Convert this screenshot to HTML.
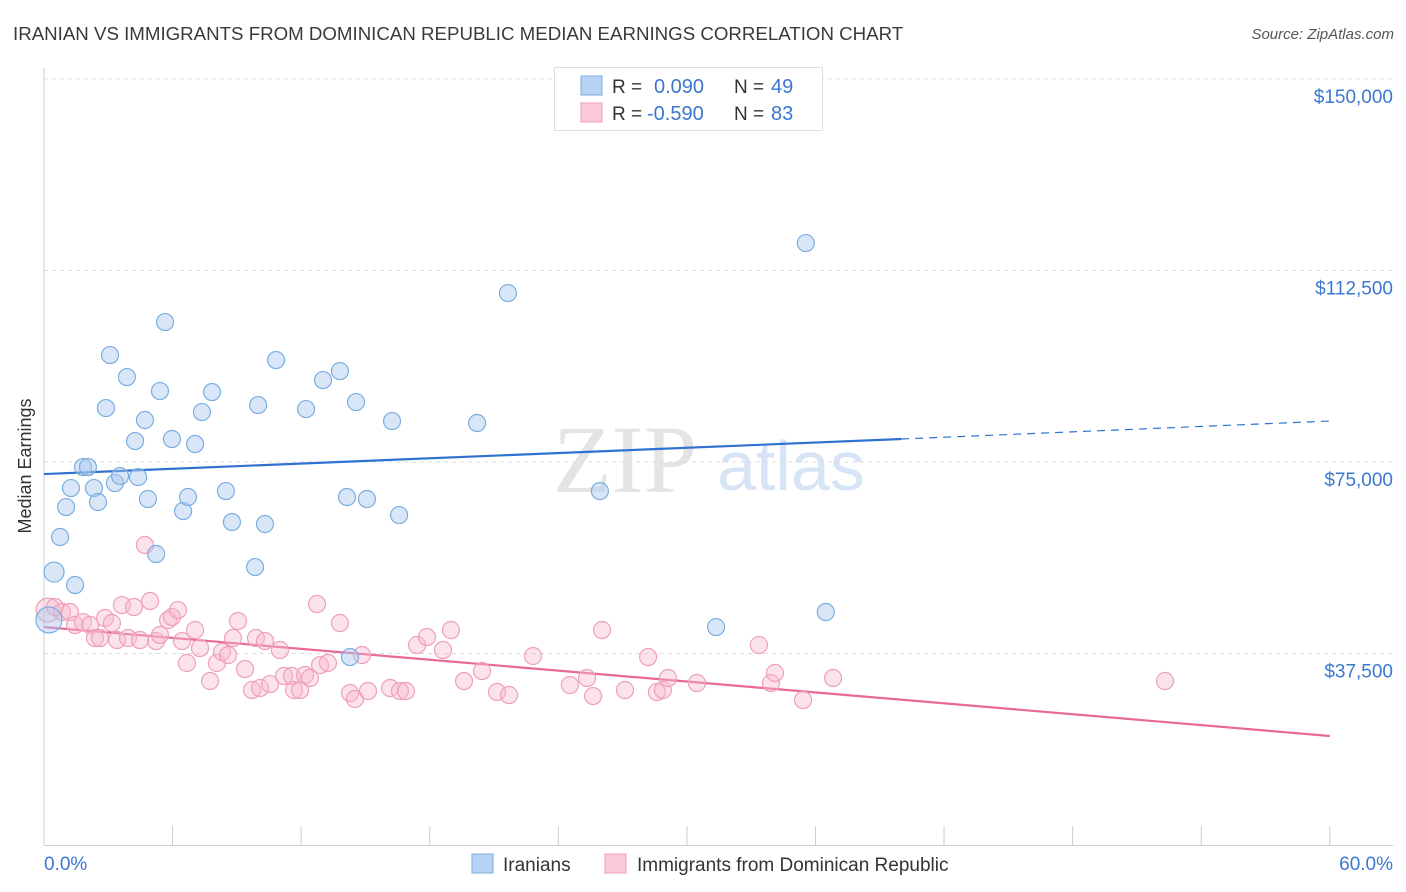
<!DOCTYPE html>
<html><head><meta charset="utf-8"><style>
body{margin:0;background:#fff;font-family:"Liberation Sans",sans-serif;}
svg{display:block}
</style></head><body>
<svg id="chart" width="1406" height="892" xmlns="http://www.w3.org/2000/svg">
<text x="13" y="40" font-size="18.7" fill="#3a3a3a">IRANIAN VS IMMIGRANTS FROM DOMINICAN REPUBLIC MEDIAN EARNINGS CORRELATION CHART</text>
<text x="1394" y="39" font-size="15" fill="#555" font-style="italic" text-anchor="end">Source: ZipAtlas.com</text>
<g>
<text x="553" y="492" font-size="96" font-family="Liberation Serif,serif" fill="#e4e4e4">ZIP</text>
<text x="717" y="490" font-size="70" fill="#d6e4f5">atlas</text>
</g>
<g id="grid"></g>
<g id="axes"></g>
<g id="trends"></g>
<g id="points"></g>
<text x="20" y="455" font-size="18" fill="#333" transform="rotate(-90 31 455)" text-anchor="middle">Median Earnings</text>
<g>
<rect x="554.5" y="67.5" width="268" height="63" fill="#fff" stroke="#ddd"/>
<rect x="581" y="76" width="21" height="19" fill="#b8d4f5" stroke="#7aaee0"/>
<rect x="581" y="103" width="21" height="19" fill="#fbcad8" stroke="#eea0b8"/>
<text x="612" y="93" font-size="19" fill="#333">R =</text><text x="654" y="93" font-size="20" fill="#3a78d0">0.090</text>
<text x="734" y="93" font-size="19" fill="#333">N =</text><text x="771" y="93" font-size="20" fill="#3a78d0">49</text>
<text x="612" y="120" font-size="19" fill="#333">R =</text><text x="647" y="120" font-size="20" fill="#3a78d0">-0.590</text>
<text x="734" y="120" font-size="19" fill="#333">N =</text><text x="771" y="120" font-size="20" fill="#3a78d0">83</text>
</g>
<g>
<rect x="472" y="854" width="21" height="19" fill="#b8d4f5" stroke="#7aaee0"/>
<text x="503" y="871" font-size="19" fill="#333">Iranians</text>
<rect x="605" y="854" width="21" height="19" fill="#fbcad8" stroke="#eea0b8"/>
<text x="637" y="871" font-size="19" fill="#333">Immigrants from Dominican Republic</text>
</g>
<text x="44" y="870" font-size="19" fill="#3a78d0">0.0%</text>
<text x="1393" y="870" font-size="19" fill="#3a78d0" text-anchor="end">60.0%</text>
</svg>
<script>
const yTicks=[37500,75000,112500,150000];
const yTickLabels=["$37,500","$75,000","$112,500","$150,000"];
const blueTrend=[[0,72640],[40,79500],[60,83020]];
const pinkTrend=[[0,42680],[60,21340]];
const iranians=[[0.23,44060,13],[0.47,53450,10],[0.75,60310],[1.03,66180],[1.26,69900],[1.45,50910],[1.82,74010],[2.05,74010],[2.33,69900],[2.52,67160],[2.89,85560],[3.08,95940],[3.31,70880],[3.55,72250],[3.87,91630],[4.25,79100],[4.39,72050],[4.71,83220],[4.85,67750],[5.23,56980],[5.41,88890],[5.65,102400],[5.97,79500],[6.49,65400],[6.72,68140],[7.05,78520],[7.37,84780],[7.84,88700],[8.49,69310],[8.77,63240],[9.85,54430],[9.99,86150],[10.31,62850],[10.83,94960],[12.23,85370],[13.02,91050],[13.81,92810],[14.14,68140],[14.28,36810],[14.56,86740],[15.07,67750],[16.24,83020],[16.57,64610],[20.21,82630],[21.65,108080],[25.94,69310],[31.36,42680],[35.55,117870],[36.48,45620]];
const dominican=[[0.19,46010,12],[0.51,46600],[0.84,45620],[1.21,45620],[1.45,43080],[1.82,43660],[2.15,43080],[2.38,40530],[2.61,40530],[2.85,44450],[3.17,43470],[3.41,40140],[3.64,46990],[3.92,40530],[4.2,46600],[4.48,40140],[4.71,58740],[4.95,47780],[5.23,39940],[5.41,41120],[5.79,44060],[5.97,44640],[6.25,46010],[6.44,39940],[6.67,35640],[7.05,42100],[7.28,38570],[7.75,32110],[8.07,35640],[8.31,37790],[8.59,37200],[8.82,40530],[9.05,43860],[9.38,34460],[9.71,30350],[9.89,40530],[10.08,30740],[10.31,39940],[10.55,31520],[11.01,38180],[11.2,33090],[11.57,33090],[11.67,30350],[11.95,30350],[12.18,33290],[12.41,32700],[12.74,47190],[12.88,35240],[13.25,35640],[13.81,43470],[14.28,29760],[14.51,28590],[14.84,37200],[15.12,30150],[16.15,30740],[16.61,30150],[16.89,30150],[17.41,39160],[17.87,40730],[18.62,38180],[18.99,42100],[19.6,32110],[20.44,34070],[21.14,29960],[21.7,29370],[22.82,37010],[24.54,31330],[25.34,32700],[25.62,29170],[26.04,42100],[27.11,30350],[28.19,36810],[28.6,29960],[28.88,30350],[29.12,32700],[30.47,31720],[33.36,39160],[33.92,31720],[34.11,33680],[35.42,28390],[36.82,32700],[52.31,32110]];
const NS="http://www.w3.org/2000/svg";
const X=p=>44+p*21.43, Y=v=>845-v/37500*191.5;
function mk(par,tag,at){const e=document.createElementNS(NS,tag);for(const k in at)e.setAttribute(k,at[k]);document.getElementById(par).appendChild(e);return e;}
yTicks.forEach((t,i)=>{
 let l=mk('grid','line',{x1:44,x2:1393,y1:Y(t),y2:Y(t),stroke:'#ddd','stroke-dasharray':'4 4'});
 
 
 let tx=mk('grid','text',{x:1393,y:Y(t)+24,'font-size':19,fill:'#3a78d0','text-anchor':'end'});
 tx.textContent=yTickLabels[i];
 
 
});
mk('axes','line',{x1:44,x2:44,y1:68,y2:845,stroke:'#ccc'});
mk('axes','line',{x1:44,x2:1393,y1:845.5,y2:845.5,stroke:'#ccc'});
for(let i=0;i<=10;i++){let t=mk('axes','line',{x1:X(i*6),x2:X(i*6),y1:826,y2:845,stroke:'#ccc'});
 
 }
let bl=mk('trends','line',{x1:X(blueTrend[0][0]),y1:Y(blueTrend[0][1]),x2:X(blueTrend[1][0]),y2:Y(blueTrend[1][1]),stroke:'#2f72d0','stroke-width':2.2});


let bd=mk('trends','line',{x1:X(blueTrend[1][0]),y1:Y(blueTrend[1][1]),x2:X(blueTrend[2][0]),y2:Y(blueTrend[2][1]),stroke:'#2f72d0','stroke-width':1.2,'stroke-dasharray':'8 6'});


let pl=mk('trends','line',{x1:X(pinkTrend[0][0]),y1:Y(pinkTrend[0][1]),x2:X(pinkTrend[1][0]),y2:Y(pinkTrend[1][1]),stroke:'#e8689a','stroke-width':2.2});


dominican.forEach(d=>{let c=mk('points','circle',{cx:X(d[0]),cy:Y(d[1]),r:d[2]||8.5,fill:'rgba(248,185,205,0.4)',stroke:'#eea0b8','stroke-width':1.2});
 
 });
iranians.forEach(d=>{let c=mk('points','circle',{cx:X(d[0]),cy:Y(d[1]),r:d[2]||8.5,fill:'rgba(170,200,240,0.45)',stroke:'#7aaee0','stroke-width':1.2});
 
 });
</script>
</body></html>
